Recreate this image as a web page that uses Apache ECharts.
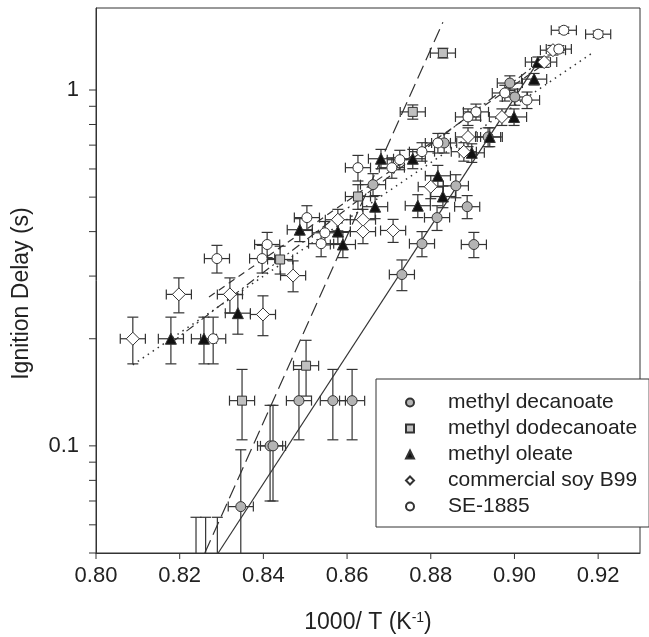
<!DOCTYPE html>
<html><head><meta charset="utf-8">
<script src="https://cdn.jsdelivr.net/npm/echarts@6/dist/echarts.min.js"></script>
<style>html,body{margin:0;padding:0;background:#fff}#c{width:649px;height:637px}</style>
</head><body><div id="c"></div>
<script>
// ---- axis ticks ----
const xTicks = [0.80, 0.82, 0.84, 0.86, 0.88, 0.90, 0.92];
const yMajorTicks = [0.1, 1];
const yMinorTicks = [0.05, 0.06, 0.07, 0.08, 0.09, 0.2, 0.3, 0.4, 0.5, 0.6, 0.7, 0.8, 0.9];
const xMin = 0.80, xMax = 0.93, yMin = 0.05, yMax = 1.7;

// ---- data (1000/T, ignition delay s, vertical error) ----
const decanoateX = [0.8346, 0.8416, 0.8423, 0.8485, 0.8566, 0.8612, 0.8731, 0.8779, 0.8903, 0.8815, 0.8887, 0.8860, 0.8662, 0.8937, 0.8832, 0.8989, 0.9001];
const decanoateY = [0.0675, 0.100, 0.100, 0.134, 0.134, 0.134, 0.303, 0.370, 0.368, 0.438, 0.470, 0.538, 0.542, 0.738, 0.710, 1.046, 0.956];
const decanoateYErr = [0.030, 0.030, 0.030, 0.030, 0.030, 0.030, 0.030, 0.030, 0.030, 0.035, 0.035, 0.040, 0.040, 0.045, 0.045, 0.050, 0.050];

const dodecanoateX = [0.8349, 0.8502, 0.8440, 0.8757, 0.8829, 0.8626, 0.8239, 0.8262, 0.8290];
const dodecanoateY = [0.134, 0.168, 0.334, 0.868, 1.270, 0.502, 0.040, 0.040, 0.040];
const dodecanoateYErr = [0.030, 0.030, 0.030, 0.040, 0.040, 0.040, 0.023, 0.023, 0.023];

const oleateX = [0.8179, 0.8258, 0.8339, 0.8487, 0.8578, 0.8590, 0.8667, 0.8769, 0.8829, 0.8817, 0.8681, 0.8757, 0.8898, 0.8941, 0.8999, 0.9047, 0.9056];
const oleateY = [0.200, 0.200, 0.236, 0.405, 0.400, 0.368, 0.470, 0.473, 0.502, 0.574, 0.641, 0.641, 0.666, 0.738, 0.840, 1.073, 1.198];
const oleateYErr = [0.030, 0.030, 0.030, 0.030, 0.030, 0.030, 0.035, 0.035, 0.035, 0.040, 0.040, 0.040, 0.040, 0.045, 0.045, 0.040, 0.040];

const soyX = [0.8088, 0.8198, 0.8320, 0.8399, 0.8471, 0.8578, 0.8638, 0.8638, 0.8710, 0.8800, 0.8879, 0.8889, 0.8970, 0.9071, 0.9092];
const soyY = [0.200, 0.2665, 0.2665, 0.234, 0.301, 0.432, 0.432, 0.400, 0.403, 0.535, 0.671, 0.738, 0.840, 1.198, 1.294];
const soyYErr = [0.030, 0.030, 0.030, 0.030, 0.030, 0.030, 0.030, 0.030, 0.030, 0.040, 0.040, 0.045, 0.045, 0.040, 0.040];

const seX = [0.9118, 0.9200, 0.9106, 0.8626, 0.8504, 0.8547, 0.8538, 0.8409, 0.8289, 0.8397, 0.8280, 0.8726, 0.8779, 0.8707, 0.8908, 0.8889, 0.8817, 0.9030, 0.8977];
const seY = [1.472, 1.435, 1.303, 0.605, 0.438, 0.397, 0.370, 0.368, 0.336, 0.336, 0.200, 0.637, 0.671, 0.605, 0.868, 0.840, 0.710, 0.937, 0.981];
const seYErr = [0.030, 0.030, 0.030, 0.050, 0.035, 0.030, 0.030, 0.030, 0.030, 0.030, 0.030, 0.040, 0.040, 0.040, 0.045, 0.045, 0.045, 0.050, 0.050];

const xErr = 0.003;

// ---- fit lines (end points) ----
const decanoateFitX = [0.8292, 0.9056], decanoateFitY = [0.05, 1.20];
const dodecanoateFitX = [0.8260, 0.8829], dodecanoateFitY = [0.05, 1.55];
const oleateFitX = [0.8180, 0.9060], oleateFitY = [0.195, 1.20];
const soyFitX = [0.8088, 0.9190], soyFitY = [0.169, 1.28];
const seFitX = [0.8270, 0.9070], seFitY = [0.262, 1.18];

const names = ['methyl decanoate', 'methyl dodecanoate', 'methyl oleate', 'commercial soy B99', 'SE-1885'];
const INK = '#333';
const FONT = 'Liberation Sans, Arial, sans-serif';

function pts(xs, ys) { return xs.map((x, i) => [x, ys[i]]); }
function errPts(xs, ys, es) { return xs.map((x, i) => [x, ys[i], xErr, es[i]]); }

function errRender(params, api) {
  const x = api.value(0), y = api.value(1), ex = api.value(2), ey = api.value(3);
  const c = api.coord([x, y]);
  const l = api.coord([x - ex, y]), r = api.coord([x + ex, y]);
  const t = api.coord([x, y + ey]), b = api.coord([x, Math.max(y - ey, 1e-4)]);
  const hc = 5, vc = 5.5;
  const st = { stroke: INK, lineWidth: 1.2, fill: null };
  const L = (x1, y1, x2, y2) => ({ type: 'line', shape: { x1, y1, x2, y2 }, style: st });
  return { type: 'group', children: [
    L(l[0], c[1], r[0], c[1]),
    L(l[0], c[1] - hc, l[0], c[1] + hc),
    L(r[0], c[1] - hc, r[0], c[1] + hc),
    L(c[0], t[1], c[0], b[1]),
    L(c[0] - vc, t[1], c[0] + vc, t[1]),
    L(c[0] - vc, b[1], c[0] + vc, b[1])
  ]};
}

function errSeries(xs, ys, es) {
  return { type: 'custom', name: 'err', silent: true, clip: true, z: 2,
    data: errPts(xs, ys, es), renderItem: errRender, animation: false };
}
function fitSeries(xs, ys, dash, width) {
  return { type: 'line', name: 'fit', silent: true, z: 1, symbol: 'none', clip: true,
    data: pts(xs, ys), lineStyle: { color: INK, width: width || 1.2, type: dash }, animation: false };
}
function scatterSeries(name, xs, ys, symbol, size, fill) {
  return { type: 'scatter', name, symbol, symbolSize: size, symbolKeepAspect: true, z: 3, clip: true,
    data: pts(xs, ys), itemStyle: { color: fill, borderColor: INK, borderWidth: 1, opacity: 1 }, animation: false };
}

const tickStyle = { stroke: INK, lineWidth: 1 };
const chart = echarts.init(document.getElementById('c'), null, { renderer: 'canvas' });
chart.setOption({
  animation: false,
  backgroundColor: '#fff',
  textStyle: { fontFamily: FONT },
  grid: { left: 96, right: 9, top: 8, bottom: 84, containLabel: false, outerBoundsMode: 'none',
    show: true, borderColor: INK, borderWidth: 1, backgroundColor: 'transparent' },
  legend: {
    data: names, orient: 'vertical', left: 376, top: 379,
    padding: [13, 12, 10, 29], itemWidth: 8, itemHeight: 8, itemGap: 5,
    backgroundColor: '#fff', borderColor: INK, borderWidth: 1, borderRadius: 0,
    textStyle: { fontSize: 21, color: '#222', fontFamily: FONT, padding: [0, 0, 0, 29] },
    selectedMode: false
  },
  xAxis: {
    type: 'value', min: xMin, max: xMax, interval: 0.02,
    splitLine: { show: false }, axisTick: { show: false },
    axisLine: { show: true, onZero: false, lineStyle: { color: INK, width: 1 } },
    axisLabel: { fontSize: 22, color: '#222', margin: 12, showMaxLabel: false,
      formatter: v => (v > 0.925 ? '' : v.toFixed(2)) },
    name: '1000/ T (K{sup|-1})', nameLocation: 'middle', nameGap: 58,
    nameTextStyle: { fontSize: 23, color: '#222', rich: { sup: { fontSize: 14, color: '#222', verticalAlign: 'top' } } }
  },
  yAxis: {
    type: 'log', logBase: 10, min: yMin, max: yMax,
    splitLine: { show: false }, axisTick: { show: false }, minorTick: { show: false },
    axisLine: { show: true, onZero: false, lineStyle: { color: INK, width: 1 } },
    axisLabel: { fontSize: 22, color: '#222', margin: 17,
      formatter: v => { const l = Math.log10(v); const r = Math.round(l); return Math.abs(l - r) < 1e-6 ? String(Math.pow(10, r).toFixed(r < 0 ? -r : 0)) : ''; } },
    name: 'Ignition Delay (s)', nameLocation: 'middle', nameGap: 63,
    nameTextStyle: { fontSize: 23, color: '#222', padding: [0, 26, 0, 0] }
  },
  series: [
    fitSeries(decanoateFitX, decanoateFitY, 'solid', 1.2),
    fitSeries(dodecanoateFitX, dodecanoateFitY, [14, 6], 1.2),
    fitSeries(oleateFitX, oleateFitY, [9, 4, 2, 4], 1.2),
    fitSeries(soyFitX, soyFitY, [1.5, 4.5], 1.5),
    fitSeries(seFitX, seFitY, [7, 5], 1.2),
    errSeries(decanoateX, decanoateY, decanoateYErr),
    errSeries(dodecanoateX, dodecanoateY, dodecanoateYErr),
    errSeries(oleateX, oleateY, oleateYErr),
    errSeries(soyX, soyY, soyYErr),
    errSeries(seX, seY, seYErr),
    scatterSeries(names[0], decanoateX, decanoateY, 'circle', 10, '#b4b4b4'),
    scatterSeries(names[1], dodecanoateX, dodecanoateY, 'rect', 9, '#c0c0c0'),
    scatterSeries(names[2], oleateX, oleateY, 'triangle', 11, '#111'),
    scatterSeries(names[3], soyX, soyY, 'diamond', 13, '#fff'),
    scatterSeries(names[4], seX, seY, 'circle', 10, '#fff'),
    { type: 'custom', name: 'xticks', silent: true, clip: false, z: 5, animation: false,
      data: xTicks.map(v => [v, yMin]),
      renderItem: (p, api) => { const c = api.coord([api.value(0), api.value(1)]);
        return { type: 'line', shape: { x1: c[0], y1: c[1], x2: c[0], y2: c[1] + 6 }, style: tickStyle }; } },
    { type: 'custom', name: 'yticks', silent: true, clip: false, z: 5, animation: false,
      data: yMajorTicks.concat(yMinorTicks).map(v => [xMin, v]),
      renderItem: (p, api) => { const c = api.coord([api.value(0), api.value(1)]);
        return { type: 'line', shape: { x1: c[0] - 7, y1: c[1], x2: c[0], y2: c[1] }, style: tickStyle }; } }
  ]
});
</script></body></html>
